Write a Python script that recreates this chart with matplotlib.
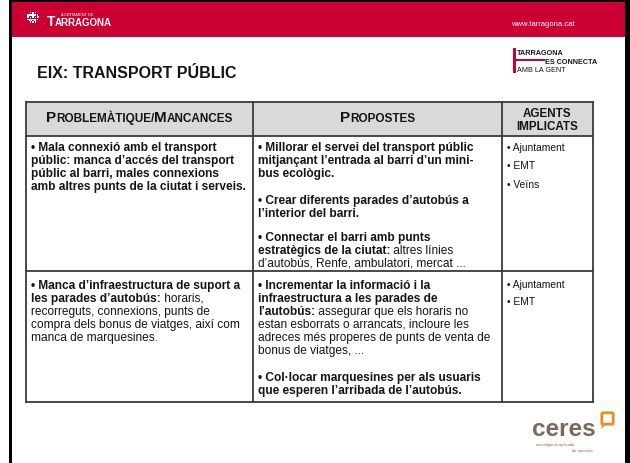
import matplotlib
matplotlib.use("Agg")
import matplotlib.pyplot as plt
from matplotlib.patches import Rectangle, FancyBboxPatch, Polygon

plt.rcParams['font.family'] = ['Liberation Sans', 'DejaVu Sans']

# ---- contingut de la diapositiva ----
titol = "EIX: TRANSPORT PÚBLIC"
capcaleres = ["PROBLEMÀTIQUE/MANCANCES", "PROPOSTES", "AGENTS\nIMPLICATS"]

# cada linia: llista de (text, negreta); un numero = espai extra entre punts
fila1_problemes = [
    [("• Mala connexió amb el transport", True)],
    [("públic: manca d’accés del transport", True)],
    [("públic al barri, males connexions", True)],
    [("amb altres punts de la ciutat i serveis.", True)],
]
fila1_propostes = [
    [("• Millorar el servei del transport públic", True)],
    [("mitjançant l’entrada al barri d’un mini-", True)],
    [("bus ecològic.", True)],
    14,
    [("• Crear diferents parades d’autobús a", True)],
    [("l’interior del barri.", True)],
    11,
    [("• Connectar el barri amb punts", True)],
    [("estratègics de la ciutat:", True), (" altres línies", False)],
    [("d’autobús, Renfe, ambulatori, mercat ...", False)],
]
fila1_agents = ["• Ajuntament", "• EMT", "• Veïns"]

fila2_problemes = [
    [("• Manca d’infraestructura de suport a", True)],
    [("les parades d’autobús:", True), (" horaris,", False)],
    [("recorreguts, connexions, punts de", False)],
    [("compra dels bonus de viatges, així com", False)],
    [("manca de marquesines.", False)],
]
fila2_propostes = [
    [("• Incrementar la informació i la", True)],
    [("infraestructura a les parades de", True)],
    [("l’autobús:", True), (" assegurar que els horaris no", False)],
    [("estan esborrats o arrancats, incloure les", False)],
    [("adreces més properes de punts de venta de", False)],
    [("bonus de viatges, ...", False)],
    14,
    [("• Col·locar marquesines per als usuaris", True)],
    [("que esperen l’arribada de l’autobús.", True)],
]
fila2_agents = ["• Ajuntament", "• EMT"]

W, H = 630, 464
fig = plt.figure(figsize=(W / 100, H / 100), dpi=100)
ax = fig.add_axes([0, 0, 1, 1])
ax.set_xlim(0, W)
ax.set_ylim(H, 0)
ax.axis('off')
rend = fig.canvas.get_renderer()

TXT = '#141414'
RED = '#cc0033'
FS = 8.6


def amplada(txt, size, weight):
    # mesura amb marcadors per no perdre els espais
    t1 = ax.text(0, 0, "X" + txt + "X", fontsize=size, fontweight=weight)
    t2 = ax.text(0, 0, "XX", fontsize=size, fontweight=weight)
    w = t1.get_window_extent(rend).width - t2.get_window_extent(rend).width
    t1.remove()
    t2.remove()
    return w


def linia(x, y, parts, size=FS, color=TXT):
    for txt, bold in parts:
        wt = 'bold' if bold else 'normal'
        ax.text(x, y, txt, fontsize=size, fontweight=wt, color=color,
                va='baseline', ha='left')
        x += amplada(txt, size, wt)


def bloc(x, y0, linies, pas=13):
    y = y0
    for l in linies:
        if isinstance(l, (int, float)):
            y += l
            continue
        linia(x, y, l)
        y += pas


def versaletes(xc, y, text, big=11, small=8.5):
    parts = []
    for c in text:
        if c.isupper() and (not parts or parts[-1][0] == 'sep'):
            parts.append(('big', c))
        elif c == '/':
            parts.append(('small', c))
            parts.append(('sep', ''))
        else:
            if parts and parts[-1][0] == 'small':
                parts[-1] = ('small', parts[-1][1] + c)
            else:
                parts.append(('small', c))
    parts = [p for p in parts if p[0] != 'sep']
    sizes = [big if k == 'big' else small for k, _ in parts]
    total = sum(amplada(s, sz, 'bold') for (_, s), sz in zip(parts, sizes))
    x = xc - total / 2
    for (_, s), sz in zip(parts, sizes):
        ax.text(x, y, s, fontsize=sz, fontweight='bold', color=TXT, va='baseline')
        x += amplada(s, sz, 'bold')


# ---- marc i banda superior ----
ax.add_patch(Rectangle((0, 0), W, H, color='white', zorder=-5))
ax.add_patch(Rectangle((9, 0), 2.5, H, color='black', lw=0))
ax.add_patch(Rectangle((9, 0), 621, 3, color='black', lw=0))
ax.add_patch(Rectangle((624.5, 0), 5.5, H, color='black', lw=0))
ax.add_patch(Rectangle((11.5, 3), 613, 35, color=RED, lw=0))

# escut (aproximat)
for i in range(5):
    for j in range(5):
        if (i - 2) ** 2 + (j - 2) ** 2 > 5:
            continue
        s = 2.1 if (i + j) % 2 == 0 else 1.4
        ax.add_patch(Rectangle((27 + i * 2.4 + (2.1 - s) / 2, 12.5 + j * 2.4 + (2.1 - s) / 2),
                               s, s, color='white', lw=0))
ax.text(61, 15.5, "AJUNTAMENT DE", fontsize=2.8, color='white', va='center')
ax.text(47, 26.5, "T", fontsize=10, fontweight='bold', color='white', va='baseline')
ax.text(55, 26.5, "ARRAGONA", fontsize=7, fontweight='bold', color='white', va='baseline')
ax.text(511, 26, "www.tarragona.cat", fontsize=5.5, color='white', va='baseline')

# logo "Tarragona es connecta"
ax.add_patch(Rectangle((513, 49), 2.5, 25, color=RED, lw=0))
ax.add_patch(Rectangle((513, 59.5), 32, 2.5, color=RED, lw=0))
ax.text(517, 55, "TARRAGONA", fontsize=5.2, fontweight='bold', color=TXT, va='baseline')
ax.text(545, 63.5, "ES CONNECTA", fontsize=5.2, fontweight='bold', color=TXT, va='baseline')
ax.text(517, 72, "AMB LA GENT", fontsize=5.2, color=TXT, va='baseline')

# titol
ax.text(37, 78, titol, fontsize=11.5, fontweight='bold', color=TXT, va='baseline')

# ---- taula ----
xs = [26, 253, 502, 593]
ys = [103, 137, 272, 403]
ax.add_patch(Rectangle((xs[0], ys[0]), xs[-1] - xs[0], ys[1] - ys[0],
                       color='#d9d9d9', lw=0))
LC = '#3a3a3a'
for y in ys:
    ax.plot([xs[0], xs[-1]], [y, y], color=LC, lw=1.3, solid_capstyle='projecting')
for x in xs:
    ax.plot([x, x], [ys[0], ys[-1]], color=LC, lw=1.3, solid_capstyle='projecting')

versaletes((xs[0] + xs[1]) / 2, 122, capcaleres[0])
versaletes((xs[1] + xs[2]) / 2, 122, capcaleres[1])
ax.text((xs[2] + xs[3]) / 2, 120.5, capcaleres[2], fontsize=8.4, fontweight='bold',
        color=TXT, ha='center', va='center', linespacing=1.2)

bloc(31, 151, fila1_problemes)
bloc(258, 151, fila1_propostes)
for k, a in enumerate(fila1_agents):
    ax.text(507, 151 + k * 18.5, a, fontsize=7.4, color=TXT, va='baseline')

bloc(31, 289, fila2_problemes)
bloc(258, 289, fila2_propostes)
for k, a in enumerate(fila2_agents):
    ax.text(507, 288 + k * 17.5, a, fontsize=7.4, color=TXT, va='baseline')

# ---- logo ceres ----
ax.text(532, 436, "ceres", fontsize=17.5, fontweight='bold', color='#7a6a5c',
        va='baseline')
ax.add_patch(FancyBboxPatch((603, 415), 9, 9, boxstyle='round,pad=1.2',
                            fill=False, ec='#e8901c', lw=2))
ax.add_patch(Polygon([[602, 425], [601, 430], [606, 425.5]], color='#e8901c', lw=0))
ax.text(536, 446, "investigació aplicada", fontsize=3.1, color='#7a6a5c', va='baseline')
ax.text(572, 452, "de mercats", fontsize=3.1, color='#7a6a5c', va='baseline')

fig.savefig("out.png", dpi=100)
